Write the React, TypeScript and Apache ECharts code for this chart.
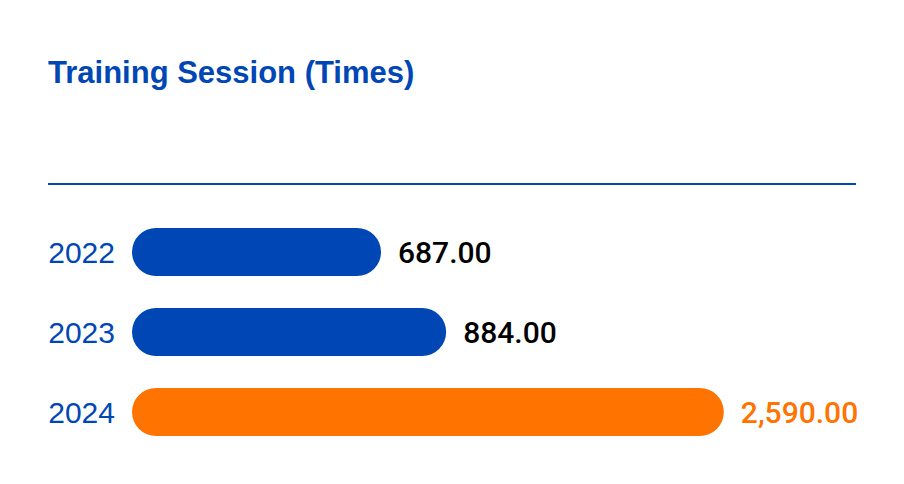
import React, { useEffect, useRef } from "react";
import * as echarts from "echarts";

const years = ["2022", "2023", "2024"];
const sessions = [687, 884, 2590];
const barColors = ["#0047B5", "#0047B5", "#FF7300"];
const labelColors = ["#000000", "#000000", "#FF7300"];
const titleText = "Training Session (Times)";

const BLUE = "#0047B5";
const FONT = "'Liberation Sans', Arial, Helvetica, sans-serif";
const FONT_M = "Roboto, 'Liberation Sans', Arial, sans-serif";

function fmt(v: number) {
  return v.toLocaleString("en-US", { minimumFractionDigits: 2, maximumFractionDigits: 2 });
}

export default function App() {
  const ref = useRef<HTMLDivElement>(null);
  useEffect(() => {
    document.body.style.margin = "0";
    if (!ref.current) return;
    const chart = echarts.init(ref.current, null, { renderer: "svg" });
    chart.setOption({
      animation: false,
      backgroundColor: "#ffffff",
      title: {
        text: titleText,
        left: 43,
        top: 52,
        textStyle: { color: BLUE, fontSize: 31, fontWeight: "bold", fontFamily: FONT },
      },
      graphic: [
        {
          type: "line",
          shape: { x1: 48, y1: 184, x2: 856, y2: 184 },
          style: { stroke: BLUE, lineWidth: 2 },
        },
      ],
      grid: { left: 132, right: 48, top: 212, height: 240 },
      xAxis: {
        type: "log",
        min: 262,
        max: 4320,
        show: false,
      },
      yAxis: {
        type: "category",
        data: years,
        inverse: true,
        axisLine: { show: false },
        axisTick: { show: false },
        axisLabel: { color: BLUE, fontSize: 30, fontFamily: FONT, margin: 17 },
      },
      series: [
        {
          type: "custom",
          encode: { x: 0, y: 1 },
          data: sessions.map((v, i) => [v, i]),
          renderItem: (params: any, api: any) => {
            const idx = params.dataIndex;
            const v = api.value(0);
            const end = api.coord([v, api.value(1)]);
            const band = api.size([0, 1])[1];
            const h = band * 0.6;
            const x0 = params.coordSys.x;
            return {
              type: "group",
              children: [
                {
                  type: "rect",
                  shape: { x: x0, y: end[1] - h / 2, width: end[0] - x0, height: h, r: h / 2 },
                  style: { fill: barColors[idx] },
                },
                {
                  type: "text",
                  style: {
                    x: end[0] + 17,
                    y: end[1],
                    text: fmt(v),
                    fill: labelColors[idx],
                    fontSize: 30,
                    fontWeight: 500,
                    fontFamily: FONT_M,
                    align: "left",
                    verticalAlign: "middle",
                  },
                },
              ],
            };
          },
        },
      ],
    });
    return () => chart.dispose();
  }, []);
  return <div ref={ref} style={{ width: 904, height: 484 }} />;
}
